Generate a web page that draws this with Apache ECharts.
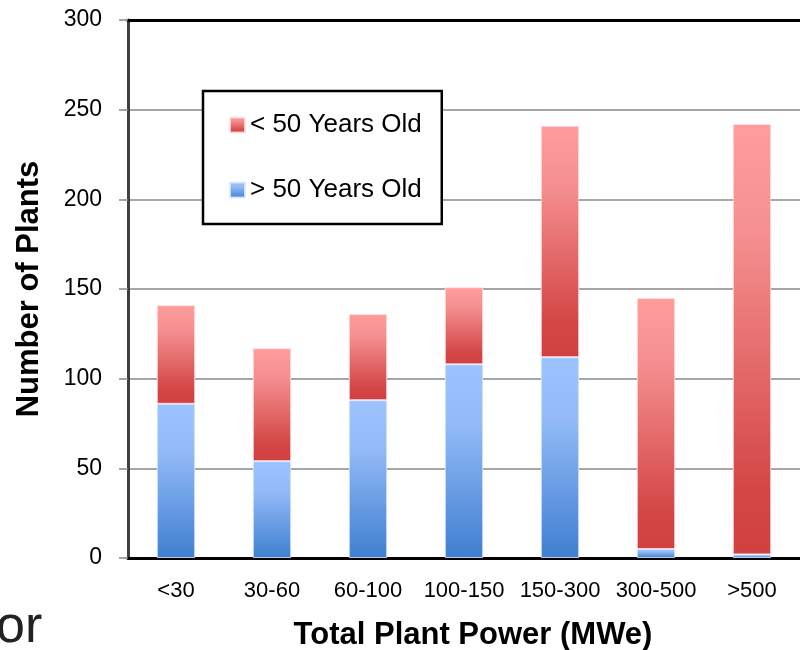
<!DOCTYPE html>
<html>
<head>
<meta charset="utf-8">
<script src="https://cdn.jsdelivr.net/npm/echarts@6/dist/echarts.min.js"></script>
<style>html,body{margin:0;padding:0;background:#fff;}#c{width:800px;height:650px;}</style>
</head>
<body>
<div id="c"></div>
<script>
var categories = ['<30', '30-60', '60-100', '100-150', '150-300', '300-500', '>500'];
var over50 = [86, 54, 88, 108, 112, 5, 2];
var under50 = [55, 63, 48, 43, 129, 140, 240];
var yTicks = {min: 0, max: 300, interval: 50};
var sans = "'Liberation Sans',Arial,sans-serif";

var chart = echarts.init(document.getElementById('c'), null, {renderer: 'canvas'});
var blueGrad = new echarts.graphic.LinearGradient(0, 0, 0, 1, [
  {offset: 0, color: '#9cc2ff'}, {offset: 0.3, color: '#94bbf8'}, {offset: 1, color: '#3f7fd0'}]);
var redGrad = new echarts.graphic.LinearGradient(0, 0, 0, 1, [
  {offset: 0, color: '#ff9c9c'}, {offset: 0.25, color: '#f59090'}, {offset: 0.85, color: '#d44646'}, {offset: 1, color: '#d04040'}]);

chart.setOption({
  animation: false,
  backgroundColor: '#fff',
  grid: {left: 128, right: 0, top: 20, bottom: 92, outerBoundsMode: 'none', containLabel: false},
  legend: {
    orient: 'vertical',
    left: 203, top: 91,
    data: ['< 50 Years Old', '> 50 Years Old'],
    icon: 'rect',
    itemWidth: 15, itemHeight: 15,
    itemGap: 39,
    padding: [21, 20, 21, 26],
    backgroundColor: '#fff',
    borderColor: '#000',
    borderWidth: 2.5,
    textStyle: {fontFamily: sans, fontSize: 26, color: '#000'}
  },
  xAxis: [{
    type: 'category',
    data: categories,
    name: 'Total Plant Power (MWe)',
    nameLocation: 'middle',
    nameGap: 62,
    nameTextStyle: {fontFamily: sans, fontSize: 31, fontWeight: 'bold', color: '#000', padding: [0, 0, 0, 18]},
    axisLine: {lineStyle: {color: '#000', width: 3}},
    axisTick: {length: 10, lineStyle: {color: '#888', width: 1.5}},
    axisLabel: {fontFamily: sans, fontSize: 22, color: '#000', margin: 22, interval: 0}
  }, {
    type: 'category',
    data: categories,
    position: 'top',
    axisLine: {show: true, lineStyle: {color: '#000', width: 3}},
    axisTick: {show: false},
    axisLabel: {show: false}
  }],
  yAxis: {
    type: 'value',
    min: yTicks.min, max: yTicks.max, interval: yTicks.interval,
    name: 'Number of Plants',
    nameLocation: 'middle',
    nameGap: 83,
    nameTextStyle: {fontFamily: sans, fontSize: 31, fontWeight: 'bold', color: '#000'},
    axisLine: {show: true, lineStyle: {color: '#404040', width: 3}},
    axisTick: {show: true, length: 9, lineStyle: {color: '#888', width: 1.5}},
    axisLabel: {fontFamily: sans, fontSize: 23, color: '#000', margin: 26},
    splitLine: {lineStyle: {color: '#888', width: 1.5}}
  },
  series: [{
    name: '> 50 Years Old',
    type: 'bar',
    stack: 'total',
    barWidth: '40%',
    data: over50,
    itemStyle: {color: blueGrad, borderColor: 'rgba(220,235,255,0.8)', borderWidth: 1}
  }, {
    name: '< 50 Years Old',
    type: 'bar',
    stack: 'total',
    barWidth: '40%',
    data: under50,
    itemStyle: {color: redGrad, borderColor: 'rgba(255,225,225,0.8)', borderWidth: 1}
  }],
  graphic: [{
    type: 'text',
    left: -4,
    top: 602,
    style: {text: 'or', fontFamily: sans, fontSize: 52, fill: '#222'}
  }]
});
</script>
</body>
</html>
